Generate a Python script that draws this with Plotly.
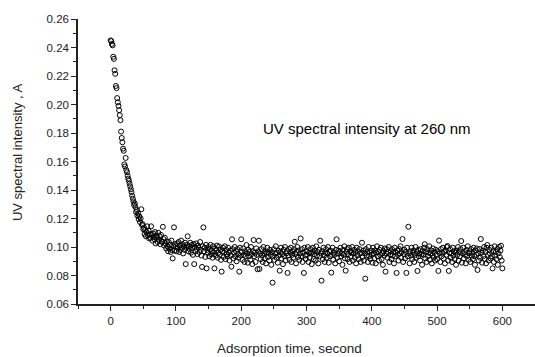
import plotly.graph_objects as go

# ---- data ----
SAMPLE_INTERVAL_S = 1.0  # seconds between successive readings

absorbance = [
    # 0-99 s : decay
    0.245, 0.2445, 0.2425, 0.2415, 0.2335, 0.232, 0.224, 0.2215, 0.213, 0.2115,
    0.2045, 0.2015, 0.199, 0.196, 0.1925, 0.189, 0.181, 0.1765, 0.1735, 0.169,
    0.1675, 0.158, 0.1565, 0.1625, 0.154, 0.1525, 0.150, 0.148, 0.1465, 0.1445,
    0.1425, 0.1405, 0.1385, 0.136, 0.134, 0.132, 0.1295, 0.1305, 0.128, 0.1245,
    0.126, 0.122, 0.1235, 0.1195, 0.1215, 0.1175, 0.120, 0.1265, 0.1155, 0.116,
    0.1125, 0.1135, 0.109, 0.112, 0.1075, 0.1105, 0.1145, 0.108, 0.1115, 0.106,
    0.109, 0.1065, 0.1145, 0.1085, 0.1045, 0.1095, 0.107, 0.1055, 0.1105, 0.1025,
    0.108, 0.1065, 0.1035, 0.110, 0.105, 0.1075, 0.102, 0.1085, 0.104, 0.1035,
    0.1142, 0.1055, 0.101, 0.1065, 0.1025, 0.099, 0.104, 0.1005, 0.097, 0.1035,
    0.099, 0.1015, 0.0965, 0.1045, 0.098, 0.092, 0.1005, 0.1138, 0.0975, 0.102,
    # 100-199 s
    0.1005, 0.097, 0.1025, 0.099, 0.1035, 0.0965, 0.101, 0.098, 0.1045, 0.0995,
    0.102, 0.0955, 0.1005, 0.098, 0.103, 0.088, 0.0995, 0.1015, 0.1075, 0.097,
    0.1005, 0.0985, 0.103, 0.096, 0.1015, 0.0995, 0.0945, 0.102, 0.088, 0.100,
    0.097, 0.1025, 0.0985, 0.095, 0.101, 0.0995, 0.0965, 0.1035, 0.098, 0.094,
    0.086, 0.1005, 0.1138, 0.097, 0.0995, 0.093, 0.1015, 0.085, 0.098, 0.096,
    0.100, 0.0935, 0.0985, 0.1015, 0.095, 0.097, 0.0925, 0.1005, 0.096, 0.085,
    0.099, 0.094, 0.0975, 0.101, 0.0925, 0.096, 0.1002, 0.0945, 0.098, 0.091,
    0.0827, 0.097, 0.0995, 0.093, 0.096, 0.1005, 0.0915, 0.098, 0.095, 0.0935,
    0.0995, 0.096, 0.0905, 0.0975, 0.094, 0.0862, 0.1054, 0.0985, 0.092, 0.096,
    0.100, 0.0935, 0.097, 0.090, 0.0985, 0.095, 0.0925, 0.0827, 0.0995, 0.094,
    # 200-299 s
    0.1054, 0.0965, 0.091, 0.099, 0.0945, 0.0895, 0.097, 0.0935, 0.1014, 0.0955,
    0.089, 0.098, 0.0935, 0.0965, 0.091, 0.100, 0.095, 0.088, 0.097, 0.1049,
    0.0935, 0.096, 0.0895, 0.099, 0.0945, 0.0844, 0.097, 0.1044, 0.0846, 0.0955,
    0.0915, 0.0985, 0.094, 0.0895, 0.100, 0.0955, 0.092, 0.097, 0.0885, 0.096,
    0.0995, 0.093, 0.096, 0.0905, 0.098, 0.0945, 0.0875, 0.0965, 0.075, 0.0935,
    0.0985, 0.091, 0.0955, 0.1005, 0.0925, 0.096, 0.089, 0.0975, 0.094, 0.0834,
    0.0965, 0.0995, 0.092, 0.095, 0.088, 0.098, 0.0935, 0.100, 0.0905, 0.0955,
    0.097, 0.0818, 0.094, 0.0985, 0.091, 0.096, 0.0995, 0.0895, 0.0945, 0.097,
    0.0925, 0.0985, 0.1037, 0.095, 0.0885, 0.0965, 0.100, 0.093, 0.0975, 0.091,
    0.0955, 0.106, 0.0935, 0.0985, 0.0895, 0.096, 0.0818, 0.0995, 0.094, 0.0915,
    # 300-399 s
    0.097, 0.0945, 0.100, 0.0895, 0.096, 0.0925, 0.0985, 0.0955, 0.088, 0.0965,
    0.0995, 0.0915, 0.095, 0.0975, 0.0905, 0.1005, 0.094, 0.0965, 0.0885, 0.098,
    0.0935, 0.1044, 0.0955, 0.0764, 0.097, 0.0915, 0.0995, 0.094, 0.0895, 0.096,
    0.0985, 0.0925, 0.0955, 0.100, 0.089, 0.0965, 0.0935, 0.0975, 0.082, 0.0945,
    0.0995, 0.091, 0.096, 0.0945, 0.0885, 0.098, 0.1054, 0.0925, 0.0955, 0.0975,
    0.090, 0.0965, 0.0995, 0.0935, 0.0955, 0.0875, 0.098, 0.0945, 0.1005, 0.092,
    0.0834, 0.0965, 0.0985, 0.0915, 0.095, 0.0995, 0.0895, 0.097, 0.0935, 0.096,
    0.100, 0.0905, 0.0955, 0.098, 0.0925, 0.0965, 0.0885, 0.0995, 0.094, 0.097,
    0.0915, 0.0985, 0.0955, 0.0895, 0.096, 0.103, 0.093, 0.0975, 0.0905, 0.0955,
    0.0778, 0.0985, 0.094, 0.0965, 0.0895, 0.100, 0.0935, 0.096, 0.0915, 0.0975,
    # 400-499 s
    0.0945, 0.089, 0.0995, 0.0955, 0.092, 0.0975, 0.0885, 0.096, 0.1005, 0.0935,
    0.0965, 0.0905, 0.098, 0.0945, 0.0995, 0.0915, 0.0955, 0.0875, 0.097, 0.094,
    0.099, 0.0827, 0.0955, 0.0985, 0.0925, 0.0965, 0.100, 0.0895, 0.0945, 0.097,
    0.0915, 0.0985, 0.094, 0.0965, 0.0885, 0.0995, 0.0935, 0.096, 0.0818, 0.0975,
    0.0945, 0.0905, 0.0985, 0.0955, 0.1005, 0.0925, 0.0965, 0.1056, 0.0895, 0.095,
    0.098, 0.092, 0.0965, 0.0818, 0.0995, 0.0935, 0.1142, 0.0955, 0.0885, 0.097,
    0.094, 0.0995, 0.0915, 0.096, 0.0975, 0.0895, 0.0945, 0.100, 0.0925, 0.0965,
    0.0832, 0.098, 0.0935, 0.0955, 0.0905, 0.0985, 0.095, 0.0875, 0.097, 0.0945,
    0.0995, 0.102, 0.092, 0.0965, 0.0895, 0.0985, 0.0935, 0.096, 0.1005, 0.091,
    0.0955, 0.0975, 0.0885, 0.094, 0.099, 0.0925, 0.0965, 0.0905, 0.098, 0.0945,
    # 500-600 s
    0.0915, 0.097, 0.0832, 0.1045, 0.0955, 0.0895, 0.0985, 0.0935, 0.096, 0.0995,
    0.092, 0.0965, 0.0885, 0.0975, 0.0945, 0.100, 0.1007, 0.0905, 0.0832, 0.096,
    0.0985, 0.0925, 0.0955, 0.0895, 0.0995, 0.094, 0.097, 0.0915, 0.096, 0.0875,
    0.0975, 0.0945, 0.100, 0.0905, 0.0965, 0.0935, 0.0985, 0.1042, 0.089, 0.0955,
    0.0995, 0.092, 0.0965, 0.0945, 0.0885, 0.098, 0.0935, 0.1005, 0.091, 0.0955,
    0.097, 0.0895, 0.0985, 0.094, 0.096, 0.0915, 0.0995, 0.0935, 0.0875, 0.0975,
    0.0945, 0.099, 0.0839, 0.0955, 0.0905, 0.0985, 0.0925, 0.1056, 0.096, 0.089,
    0.0975, 0.0935, 0.100, 0.0915, 0.0965, 0.0885, 0.0995, 0.1014, 0.0945, 0.0905,
    0.098, 0.0955, 0.092, 0.0995, 0.0935, 0.085, 0.097, 0.0895, 0.1005, 0.094,
    0.0965, 0.0915, 0.0985, 0.0875, 0.0955, 0.100, 0.093, 0.0975, 0.1009, 0.0905,
    0.085,
]
time_s = [i * SAMPLE_INTERVAL_S for i in range(len(absorbance))]

x_tick_values = [0, 100, 200, 300, 400, 500, 600]
y_tick_values = [0.06, 0.08, 0.10, 0.12, 0.14, 0.16, 0.18, 0.20, 0.22, 0.24, 0.26]

x_title = "Adsorption time, second"
y_title = "UV spectral intensity , A"
note_text = "UV spectral intensity at 260 nm"

FONT = "Arial, 'Liberation Sans', sans-serif"
INK = "#222222"

fig = go.Figure()
fig.add_trace(go.Scatter(
    x=time_s, y=absorbance, mode="markers",
    marker=dict(symbol="circle-open", size=5, color="black", line=dict(width=1, color="black")),
    showlegend=False, hoverinfo="x+y",
))

axis_common = dict(
    showline=True, linecolor=INK, linewidth=1.5, mirror=False,
    showgrid=False, zeroline=False,
    ticks="outside", ticklen=5, tickwidth=1.2, tickcolor=INK,
    tickfont=dict(family=FONT, size=11.5, color=INK),
)

fig.update_layout(
    width=535, height=357,
    margin=dict(l=78, r=0, t=19, b=53, pad=0),
    paper_bgcolor="white", plot_bgcolor="white",
    font=dict(family=FONT, color=INK),
    xaxis=dict(
        range=[-50, 650], tickvals=x_tick_values,
        minor=dict(dtick=50, tick0=0, ticks="outside", ticklen=3.5, tickwidth=1.2, tickcolor=INK),
        **axis_common,
    ),
    yaxis=dict(
        range=[0.06, 0.26], tickvals=y_tick_values, tickformat=".2f",
        minor=dict(dtick=0.01, tick0=0.06, ticks="outside", ticklen=3.5, tickwidth=1.2, tickcolor=INK),
        **axis_common,
    ),
    annotations=[
        dict(text=x_title, xref="paper", yref="paper", x=0.4634, y=-0.1544,
             xanchor="center", yanchor="middle", showarrow=False,
             font=dict(family=FONT, size=13.5, color=INK)),
        dict(text=y_title, xref="paper", yref="paper", x=-0.1333, y=0.5333,
             xanchor="center", yanchor="middle", showarrow=False, textangle=-90,
             font=dict(family=FONT, size=13, color=INK)),
        dict(text=note_text, xref="x", yref="y", x=393, y=0.1835,
             xanchor="center", yanchor="middle", showarrow=False,
             font=dict(family=FONT, size=15, color="black")),
    ],
)

fig.write_html("out.html", config={"displayModeBar": False})
